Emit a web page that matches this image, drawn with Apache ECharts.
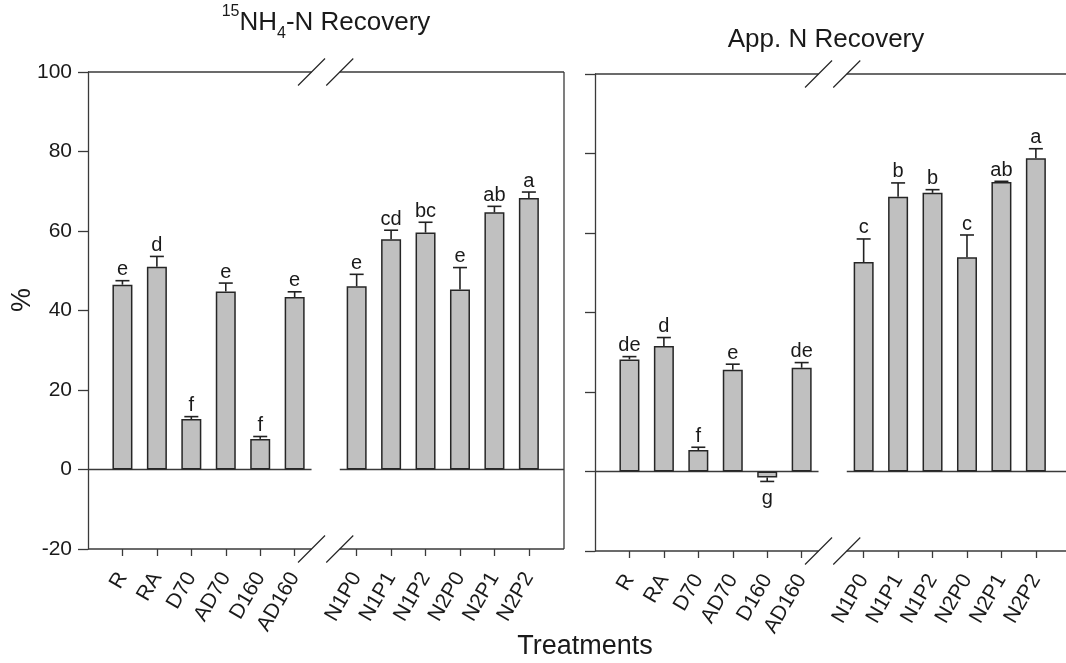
<!DOCTYPE html>
<html><head><meta charset="utf-8">
<script src="https://cdn.jsdelivr.net/npm/echarts@6/dist/echarts.min.js"></script>
<style>html,body{margin:0;padding:0;background:#fff}#c{width:1066px;height:663px}</style>
</head><body><div id="c"></div>
<script>
// ---------- data ----------
const groupA = ['R', 'RA', 'D70', 'AD70', 'D160', 'AD160'];
const groupB = ['N1P0', 'N1P1', 'N1P2', 'N2P0', 'N2P1', 'N2P2'];
const yTicks = [-20, 0, 20, 40, 60, 80, 100];

const nh4Values  = [46.5, 51.0, 12.7, 44.8, 7.7, 43.4, 46.1, 57.9, 59.6, 45.3, 64.7, 68.3];
const nh4Errors  = [1.0, 2.6, 0.6, 2.1, 0.6, 1.3, 3.0, 2.3, 2.6, 5.5, 1.5, 1.5];
const nh4Letters = ['e', 'd', 'f', 'e', 'f', 'e', 'e', 'cd', 'bc', 'e', 'ab', 'a'];

const appValues  = [28.2, 31.6, 5.4, 25.6, -1.5, 26.1, 52.7, 69.1, 70.1, 53.9, 72.8, 78.8];
const appErrors  = [0.7, 2.1, 0.7, 1.4, 1.0, 1.3, 5.8, 3.5, 0.8, 5.6, 0.2, 2.4];
const appLetters = ['de', 'd', 'f', 'e', 'g', 'de', 'c', 'b', 'b', 'c', 'ab', 'a'];

const panelTitles = ['{sup|15}NH{sub|4}-N Recovery', 'App. N Recovery'];
const yName = '%';
const xName = 'Treatments';

// ---------- layout ----------
const FONT = '"Liberation Sans", Arial, Helvetica, sans-serif';
const AX = '#3a3a3a';
const categories = groupA.concat(groupB);
const GAP = 1.8;                       // distance AD160 -> N1P0 in category units
const xPos = categories.map((c, i) => i < groupA.length ? i : i + (GAP - 1));
const X_MIN = -1, X_MAX = 12.82;
const BRK_LO = 5.49, BRK_HI = 6.31;
const Y_MIN = yTicks[0], Y_MAX = yTicks[yTicks.length - 1];

function labelFor(v) {
  const i = xPos.findIndex(p => Math.abs(p - v) < 1e-6);
  return i >= 0 ? categories[i] : '';
}

const grids = [
  {left: 88, top: 72, width: 476, height: 477},
  {left: 595, top: 74, width: 476, height: 477}
];

function frameItem(params, api) {
  const st = {stroke: AX, lineWidth: 1.3};
  const L = (a, b) => ({type: 'line', shape: {x1: a[0], y1: a[1], x2: b[0], y2: b[1]}, style: st});
  const ch = [];
  [Y_MAX, 0, Y_MIN].forEach(yv => {
    ch.push(L(api.coord([X_MIN, yv]), api.coord([BRK_LO, yv])));
    ch.push(L(api.coord([BRK_HI, yv]), api.coord([X_MAX, yv])));
  });
  ch.push(L(api.coord([X_MAX, Y_MIN]), api.coord([X_MAX, Y_MAX])));
  [Y_MAX, Y_MIN].forEach(yv => [BRK_LO, BRK_HI].forEach(xv => {
    const p = api.coord([xv, yv]);
    ch.push({type: 'line', shape: {x1: p[0] - 13.5, y1: p[1] + 13.5, x2: p[0] + 13.5, y2: p[1] - 13.5},
      style: {stroke: '#222', lineWidth: 1.1}});
  }));
  return {type: 'group', children: ch};
}

function makeErrItem(letters) {
  return function (params, api) {
    const x = api.value(0), y = api.value(1), e = api.value(2);
    const dir = y < 0 ? -1 : 1;
    const p0 = api.coord([x, y]);
    const p1 = api.coord([x, y + dir * e]);
    const st = {stroke: '#222', lineWidth: 1.6};
    return {type: 'group', children: [
      {type: 'line', shape: {x1: p0[0], y1: p0[1], x2: p1[0], y2: p1[1]}, style: st},
      {type: 'line', shape: {x1: p1[0] - 7, y1: p1[1], x2: p1[0] + 7, y2: p1[1]}, style: st},
      {type: 'text', style: {
        text: letters[params.dataIndex], x: p1[0], y: dir > 0 ? p1[1] - 1 : p1[1] + 7,
        align: 'center', verticalAlign: dir > 0 ? 'bottom' : 'top',
        fontSize: 20, fontFamily: FONT, fill: '#1a1a1a'}}
    ]};
  };
}

const xAxes = grids.map((g, gi) => ({
  type: 'value', gridIndex: gi, min: X_MIN, max: X_MAX, position: 'bottom',
  axisLine: {show: false, onZero: false},
  splitLine: {show: false},
  axisTick: {show: true, customValues: xPos, length: 7, lineStyle: {color: AX, width: 1.3}},
  axisLabel: {customValues: xPos, formatter: v => labelFor(v), rotate: 60, fontSize: 21,
    fontFamily: FONT, color: '#1a1a1a', margin: 25}
}));
const yAxes = grids.map((g, gi) => ({
  type: 'value', gridIndex: gi, min: Y_MIN, max: Y_MAX, interval: 20,
  axisLine: {show: true, onZero: false, lineStyle: {color: AX, width: 1.3}},
  axisTick: {show: true, length: 10, lineStyle: {color: AX, width: 1.3}},
  splitLine: {show: false},
  axisLabel: {show: gi === 0, fontSize: 21, fontFamily: FONT, color: '#1a1a1a', margin: 16}
}));

const panels = [
  {values: nh4Values, errors: nh4Errors, letters: nh4Letters},
  {values: appValues, errors: appErrors, letters: appLetters}
];
const series = [];
panels.forEach((p, gi) => {
  series.push({
    type: 'custom', xAxisIndex: gi, yAxisIndex: gi, clip: false, silent: true, z: 1,
    data: [[0, 0]], renderItem: frameItem
  });
  series.push({
    type: 'bar', xAxisIndex: gi, yAxisIndex: gi, barWidth: 20, silent: true, z: 2,
    itemStyle: {color: '#c0c0c0', borderColor: '#262626', borderWidth: 1.5},
    data: xPos.map((x, i) => [x, p.values[i]])
  });
  series.push({
    type: 'custom', xAxisIndex: gi, yAxisIndex: gi, clip: false, silent: true, z: 3,
    data: xPos.map((x, i) => [x, p.values[i], p.errors[i]]),
    renderItem: makeErrItem(p.letters)
  });
});

const chart = echarts.init(document.getElementById('c'), null, {renderer: 'canvas'});
chart.setOption({
  backgroundColor: '#fff',
  animation: false,
  grid: grids.map(g => Object.assign({containLabel: false, show: false, outerBoundsMode: 'none'}, g)),
  xAxis: xAxes,
  yAxis: yAxes,
  series: series,
  graphic: [
    {type: 'text', x: 326, y: 23, style: {
      text: panelTitles[0], align: 'center', verticalAlign: 'middle',
      fontSize: 26, fontFamily: FONT, fill: '#1a1a1a', lineHeight: 38,
      rich: {
        sup: {fontSize: 16, fontFamily: FONT, fill: '#1a1a1a', lineHeight: 30, verticalAlign: 'top'},
        sub: {fontSize: 16, fontFamily: FONT, fill: '#1a1a1a', lineHeight: 4, verticalAlign: 'bottom'}
      }}},
    {type: 'text', x: 826, y: 40, style: {
      text: panelTitles[1], align: 'center', verticalAlign: 'middle',
      fontSize: 26, fontFamily: FONT, fill: '#1a1a1a'}},
    {type: 'text', x: 23, y: 300, rotation: Math.PI / 2, style: {
      text: yName, align: 'center', verticalAlign: 'middle',
      fontSize: 27, fontFamily: FONT, fill: '#1a1a1a'}},
    {type: 'text', x: 585, y: 647, style: {
      text: xName, align: 'center', verticalAlign: 'middle',
      fontSize: 27, fontFamily: FONT, fill: '#1a1a1a'}}
  ]
});
</script>
</body></html>
